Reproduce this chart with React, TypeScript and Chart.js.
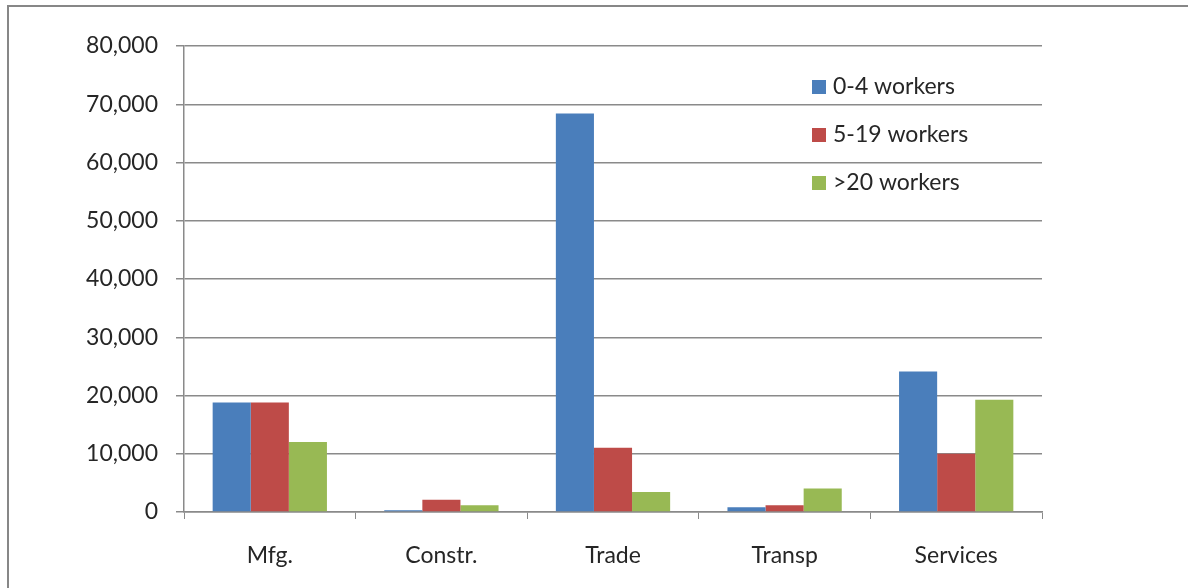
import React, { useEffect, useRef } from "react";
import { Chart, registerables } from "chart.js";

Chart.register(...registerables);

const categories = ["Mfg.", "Constr.", "Trade", "Transp", "Services"];
const seriesLabels = ["0-4 workers", "5-19 workers", ">20 workers"];
const small = [18800, 300, 68400, 800, 24100];
const medium = [18800, 2100, 11050, 1150, 10000];
const large = [12000, 1150, 3450, 4050, 19250];
const seriesColors = ["#4a7ebb", "#be4b48", "#98b954"];

const FONT = "Lato, 'Open Sans', sans-serif";
const FONT_SIZE = 23;

// Outer frame (left and top edges) around the chart object
const framePlugin = {
  id: "frame",
  beforeDraw(chart: any) {
    const ctx = chart.ctx;
    ctx.save();
    ctx.strokeStyle = "#878787";
    ctx.lineWidth = 2;
    ctx.beginPath();
    ctx.moveTo(8, chart.height);
    ctx.lineTo(8, 6);
    ctx.lineTo(chart.width, 6);
    ctx.stroke();
    ctx.restore();
  },
};

// Legend drawn inside the plot area, upper right
const insideLegend = {
  id: "insideLegend",
  afterDraw(chart: any) {
    const ctx = chart.ctx;
    ctx.save();
    ctx.font = `${FONT_SIZE}px ${FONT}`;
    ctx.textBaseline = "middle";
    ctx.textAlign = "left";
    chart.data.datasets.forEach((ds: any, i: number) => {
      const y = 87 + i * 48;
      ctx.fillStyle = ds.backgroundColor;
      ctx.fillRect(812, y - 7, 14, 14);
      ctx.fillStyle = "#262626";
      ctx.fillText(ds.label, 833, y);
    });
    ctx.restore();
  },
};

export default function App() {
  const ref = useRef<HTMLCanvasElement>(null);

  useEffect(() => {
    const chart = new Chart(ref.current!, {
      type: "bar",
      data: {
        labels: categories,
        datasets: [small, medium, large].map((values, i) => ({
          label: seriesLabels[i],
          data: values,
          backgroundColor: seriesColors[i],
          categoryPercentage: 0.666,
          barPercentage: 1,
        })),
      },
      options: {
        animation: false,
        responsive: false,
        layout: { padding: { left: 0, right: 146, top: 46, bottom: 0 } },
        plugins: { legend: { display: false }, tooltip: { enabled: false } },
        scales: {
          x: {
            grid: {
              offset: true,
              drawOnChartArea: false,
              tickLength: 7,
              color: "#8a8a8a",
            },
            border: { color: "#8a8a8a", width: 1.5 },
            ticks: {
              color: "#262626",
              font: { family: FONT, size: FONT_SIZE },
              padding: 23,
            },
            afterFit(scale: any) {
              scale.height = 76;
            },
          },
          y: {
            min: 0,
            max: 80000,
            ticks: {
              stepSize: 10000,
              color: "#262626",
              font: { family: FONT, size: FONT_SIZE },
              padding: 18,
              callback: (v: any) => Number(v).toLocaleString("en-US"),
            },
            grid: { color: "#8a8a8a", lineWidth: 1.5, tickLength: 8 },
            border: { color: "#8a8a8a", width: 1.5 },
            afterFit(scale: any) {
              scale.width = 184;
            },
          },
        },
      },
      plugins: [framePlugin, insideLegend],
    });
    return () => chart.destroy();
  }, []);

  return (
    <div style={{ position: "fixed", left: 0, top: 0, width: 1188, height: 588, background: "#fff" }}>
      <canvas ref={ref} width={1188} height={588} style={{ display: "block" }} />
    </div>
  );
}
